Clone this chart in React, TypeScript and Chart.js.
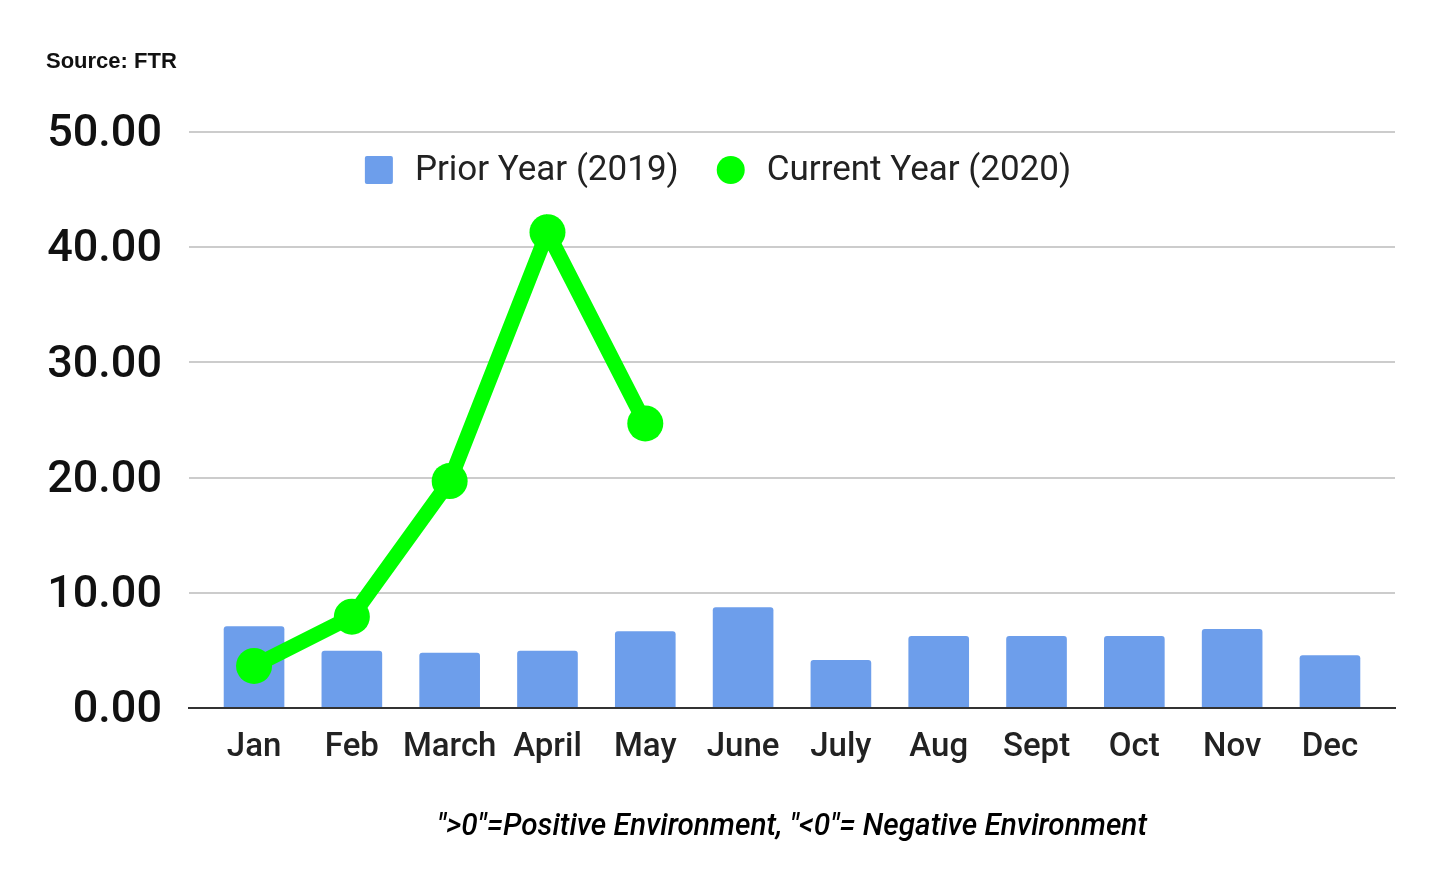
import React, { useEffect, useRef } from "react";
import { Chart, registerables } from "chart.js";

Chart.register(...registerables);

const months = ["Jan", "Feb", "March", "April", "May", "June", "July", "Aug", "Sept", "Oct", "Nov", "Dec"];
const priorYear2019 = [7.1, 4.97, 4.8, 4.97, 6.66, 8.74, 4.17, 6.25, 6.25, 6.25, 6.86, 4.57];
const currentYear2020 = [3.65, 7.93, 19.7, 41.3, 24.7];
const yTicks = [0, 10, 20, 30, 40, 50];
const priorLabel = "Prior Year (2019)";
const currentLabel = "Current Year (2020)";
const sourceText = "Source: FTR";
const noteText = "\">0\"=Positive Environment, \"<0\"= Negative Environment";

const BLUE = "#6d9eeb";
const GREEN = "#00ff00";

const overlayPlugin = {
  id: "overlay",
  afterDraw(chart: any) {
    const ctx = chart.ctx;
    const area = chart.chartArea;
    ctx.save();
    // Source
    ctx.fillStyle = "#111";
    ctx.font = "bold 22px 'Liberation Sans', Arial, sans-serif";
    ctx.textBaseline = "middle";
    ctx.textAlign = "left";
    ctx.fillText(sourceText, 46, 62);

    // Legend
    ctx.font = "400 35px Roboto, sans-serif";
    const w1 = ctx.measureText(priorLabel).width;
    const w2 = ctx.measureText(currentLabel).width;
    const box = 28;
    const gapIcon = 22;
    const gapItems = 38;
    const total = box + gapIcon + w1 + gapItems + box + gapIcon + w2;
    let x = 718 - total / 2;
    const cy = 170;
    ctx.fillStyle = BLUE;
    ctx.beginPath();
    (ctx as any).roundRect ? (ctx as any).roundRect(x, cy - box / 2, box, box, 2) : ctx.rect(x, cy - box / 2, box, box);
    ctx.fill();
    x += box + gapIcon;
    ctx.fillStyle = "#222";
    ctx.fillText(priorLabel, x, cy + 1);
    x += w1 + gapItems;
    ctx.fillStyle = GREEN;
    ctx.beginPath();
    ctx.arc(x + box / 2, cy, box / 2, 0, Math.PI * 2);
    ctx.fill();
    x += box + gapIcon;
    ctx.fillStyle = "#222";
    ctx.fillText(currentLabel, x, cy + 1);

    // Note (condensed italic)
    ctx.font = "italic 500 32px Roboto, 'Liberation Sans', sans-serif";
    ctx.textAlign = "center";
    ctx.fillStyle = "#000";
    const nw = ctx.measureText(noteText).width;
    const sx = 710 / nw;
    ctx.translate((area.left + area.right) / 2, 827);
    ctx.scale(sx, 1);
    ctx.fillText(noteText, 0, 0);
    ctx.restore();
  },
};

export default function App() {
  const ref = useRef<HTMLCanvasElement>(null);
  useEffect(() => {
    if (!ref.current) return;
    const chart = new Chart(ref.current, {
      type: "bar",
      data: {
        datasets: [
          {
            type: "line",
            label: currentLabel,
            data: currentYear2020.map((v, i) => ({ x: i, y: v })),
            borderColor: GREEN,
            backgroundColor: GREEN,
            borderWidth: 15,
            pointRadius: 18,
            pointBorderWidth: 0,
            pointBackgroundColor: GREEN,
            tension: 0,
            order: 0,
          } as any,
          {
            type: "bar",
            label: priorLabel,
            data: priorYear2019.map((v, i) => ({ x: i, y: v })),
            backgroundColor: BLUE,
            borderRadius: 3,
            borderSkipped: "bottom",
            barPercentage: 0.62,
            categoryPercentage: 1,
            order: 1,
          } as any,
        ],
      },
      options: {
        responsive: false,
        animation: false,
        layout: { padding: { left: 0, top: 132, right: 45, bottom: 0 } },
        plugins: {
          legend: { display: false },
          tooltip: { enabled: false },
        },
        scales: {
          x: {
            type: "linear",
            offset: false,
            min: -0.665,
            max: 11.665,
            afterBuildTicks: (scale: any) => {
              scale.ticks = months.map((_, i) => ({ value: i }));
            },
            afterFit: (scale: any) => {
              scale.height = 182;
            },
            grid: { display: false, drawTicks: false },
            border: { display: true, color: "#333", width: 2 },
            ticks: {
              autoSkip: false,
              maxRotation: 0,
              padding: 20,
              color: "#222",
              font: { family: "Roboto", size: 33, weight: 500 as any },
              callback: (v: any) => months[v] ?? "",
            },
          },
          y: {
            min: 0,
            max: 50,
            afterBuildTicks: (scale: any) => {
              scale.ticks = yTicks.map((v) => ({ value: v }));
            },
            afterFit: (scale: any) => {
              scale.width = 189;
            },
            grid: { color: "#cccccc", lineWidth: 2, drawTicks: false },
            border: { display: false },
            ticks: {
              padding: 27,
              labelOffset: 3,
              color: "#111",
              font: { family: "Roboto", size: 45, weight: 500 as any },
              callback: (v: any) => Number(v).toFixed(2),
            },
          },
        },
      },
      plugins: [overlayPlugin],
    } as any);
    return () => chart.destroy();
  }, []);
  return (
    <div style={{ position: "fixed", left: 0, top: 0, width: 1440, height: 890, background: "#fff" }}>
      <canvas ref={ref} width={1440} height={890} />
    </div>
  );
}
